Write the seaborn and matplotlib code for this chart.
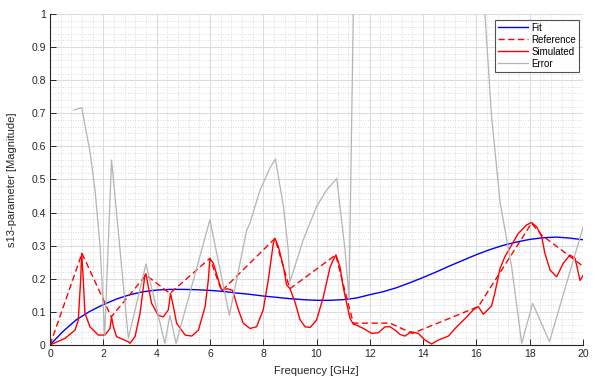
import numpy as np
import pandas as pd
import matplotlib
matplotlib.use("Agg")
import matplotlib.pyplot as plt
from matplotlib.ticker import MultipleLocator
import seaborn as sns

# Fit (smooth model curve)
fit_f = [0, 0.5, 1.0, 1.5, 2.0, 2.5, 3.0, 3.5, 4.0, 4.5, 5.0, 5.5, 6.0, 6.5, 7.0, 7.5,
         8.0, 8.5, 9.0, 9.5, 10.0, 10.5, 11.0, 11.5, 12.0, 12.5, 13.0, 13.5, 14.0, 14.5,
         15.0, 15.5, 16.0, 16.5, 17.0, 17.5, 18.0, 18.5, 19.0, 19.5, 20.0]
fit_s = [0, 0.042, 0.077, 0.102, 0.122, 0.139, 0.152, 0.161, 0.166, 0.168, 0.168, 0.167,
         0.165, 0.162, 0.157, 0.153, 0.148, 0.144, 0.140, 0.137, 0.135, 0.135, 0.137,
         0.142, 0.152, 0.161, 0.173, 0.188, 0.204, 0.221, 0.239, 0.256, 0.273, 0.288,
         0.301, 0.311, 0.319, 0.324, 0.326, 0.323, 0.318]

# Reference (measured points joined linearly)
ref_f = [0, 1.2, 2.3, 3.6, 4.5, 6.0, 6.44, 8.44, 9.0, 10.72, 11.38, 12.76, 13.6,
         16.07, 18.07, 18.45, 20.0]
ref_s = [0, 0.277, 0.085, 0.211, 0.156, 0.262, 0.163, 0.322, 0.17, 0.272, 0.066, 0.066,
         0.035, 0.116, 0.368, 0.332, 0.238]

# Simulated
sim_f = [0, 0.56, 0.94, 1.06, 1.15, 1.19, 1.25, 1.31, 1.5, 1.81, 2.06, 2.25, 2.31, 2.38,
         2.5, 2.94, 3.0, 3.19, 3.38, 3.56, 3.6, 3.69, 3.81, 4.06, 4.25, 4.44, 4.52, 4.63,
         4.75, 5.07, 5.32, 5.57, 5.82, 5.94, 6.0, 6.13, 6.32, 6.44, 6.65, 6.85, 7.07,
         7.25, 7.5, 7.75, 8.0, 8.19, 8.38, 8.44, 8.57, 8.76, 8.88, 9.0, 9.19, 9.38, 9.57,
         9.76, 10.0, 10.26, 10.51, 10.69, 10.73, 10.88, 11.0, 11.13, 11.26, 11.38, 11.5,
         11.76, 12.07, 12.32, 12.57, 12.76, 12.95, 13.13, 13.32, 13.55, 13.82, 14.07,
         14.32, 14.57, 14.95, 15.26, 15.64, 15.88, 16.07, 16.26, 16.57, 16.7, 16.89,
         17.07, 17.32, 17.57, 17.89, 18.07, 18.26, 18.45, 18.57, 18.76, 19.01, 19.26,
         19.51, 19.7, 19.89, 20.0]
sim_s = [0, 0.02, 0.045, 0.075, 0.196, 0.277, 0.196, 0.096, 0.055, 0.03, 0.03, 0.05,
         0.085, 0.055, 0.025, 0.01, 0.005, 0.025, 0.096, 0.211, 0.215, 0.176, 0.126,
         0.09, 0.085, 0.106, 0.156, 0.116, 0.066, 0.03, 0.027, 0.045, 0.116, 0.196, 0.26,
         0.247, 0.196, 0.166, 0.17, 0.165, 0.106, 0.066, 0.05, 0.055, 0.106, 0.196, 0.307,
         0.322, 0.297, 0.236, 0.181, 0.171, 0.13, 0.077, 0.055, 0.053, 0.075, 0.146,
         0.236, 0.267, 0.272, 0.236, 0.176, 0.126, 0.08, 0.063, 0.06, 0.05, 0.035, 0.037,
         0.055, 0.055, 0.045, 0.032, 0.027, 0.04, 0.035, 0.015, 0.003, 0.015, 0.027,
         0.055, 0.085, 0.106, 0.116, 0.093, 0.118, 0.16, 0.232, 0.267, 0.302, 0.337,
         0.363, 0.37, 0.357, 0.327, 0.277, 0.227, 0.206, 0.247, 0.272, 0.262, 0.195, 0.21]

# Error (goes off the top between ~11.4 and ~16.3 GHz)
err_f = [0.91, 1.19, 1.5, 1.69, 1.88, 2.05, 2.31, 2.94, 3.6, 4.31, 4.5, 4.73, 6.0, 6.73,
         7.38, 7.5, 7.88, 8.25, 8.46, 8.76, 8.94, 9.0, 9.5, 10.0, 10.38, 10.76, 11.07,
         11.22, 11.38, 11.6, 16.0, 16.32, 16.57, 16.89, 17.32, 17.7, 18.11, 18.74, 20.0]
err_s = [0.71, 0.717, 0.584, 0.468, 0.297, 0.03, 0.559, 0.02, 0.245, 0.005, 0.09, 0.005,
         0.378, 0.09, 0.347, 0.368, 0.468, 0.534, 0.562, 0.418, 0.287, 0.19, 0.317,
         0.418, 0.468, 0.503, 0.287, 0.14, 1.0, 2.2, 1.6, 1.0, 0.69, 0.43, 0.237, 0.005,
         0.126, 0.01, 0.355]

series = [
    ("Fit", fit_f, fit_s, "#0000ff", "-", 1.0),
    ("Reference", ref_f, ref_s, "#ff0000", (0, (4.5, 2.5)), 1.0),
    ("Simulated", sim_f, sim_s, "#ff0000", "-", 1.0),
    ("Error", err_f, err_s, "#b4b4b4", "-", 0.9),
]

plt.rcParams['font.family'] = ['Liberation Sans', 'DejaVu Sans']

fig = plt.figure(figsize=(5.96, 3.78), dpi=100)
ax = fig.add_axes([0.0839, 0.0873, 0.8943, 0.8757])

for name, f, s, col, ls, lw in series:
    df = pd.DataFrame({"Frequency": f, "Value": s})
    sns.lineplot(data=df, x="Frequency", y="Value", ax=ax, color=col, linestyle=ls,
                 linewidth=lw, sort=False, estimator=None, label=name)

ax.set_xlim(0, 20)
ax.set_ylim(0, 1)
ax.xaxis.set_major_locator(MultipleLocator(2))
ax.xaxis.set_minor_locator(MultipleLocator(0.4))
ax.yaxis.set_major_locator(MultipleLocator(0.1))
ax.yaxis.set_minor_locator(MultipleLocator(0.02))
ax.yaxis.set_major_formatter(plt.FuncFormatter(lambda v, p: "%g" % round(v, 2)))

ax.grid(which="major", color="#dcdcdc", linewidth=0.8, linestyle="-")
ax.grid(which="minor", color="#cfcfcf", linewidth=0.6, linestyle=(0, (1, 2)))
ax.set_axisbelow(True)

for side in ["top", "right"]:
    ax.spines[side].set_visible(False)
for side in ["left", "bottom"]:
    ax.spines[side].set_color("#262626")
    ax.spines[side].set_linewidth(0.8)

ax.tick_params(which="major", direction="in", length=4, width=0.7, color="#262626",
               labelsize=7.5, labelcolor="#262626", pad=3)
ax.tick_params(which="minor", length=0)

ax.set_xlabel("Frequency [GHz]", fontsize=8, color="#262626", va="center")
ax.set_ylabel("s13-parameter [Magnitude]", fontsize=8, color="#262626", va="center")
ax.xaxis.set_label_coords(0.5, -0.079)
ax.yaxis.set_label_coords(-0.071, 0.5)

leg = ax.legend(loc="upper right", bbox_to_anchor=(0.992, 0.982), borderaxespad=0,
                fontsize=7, handlelength=3.1, labelspacing=0.2, borderpad=0.3,
                handletextpad=0.3, frameon=True, fancybox=False)
leg.get_frame().set_edgecolor("#262626")
leg.get_frame().set_linewidth(0.8)

fig.savefig("out.png", dpi=100, facecolor="white")
